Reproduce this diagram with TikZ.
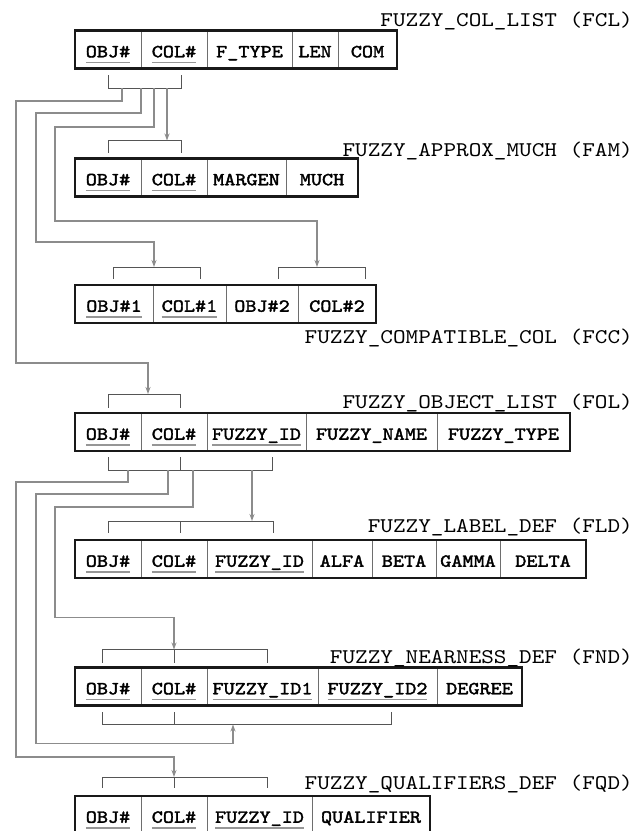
\documentclass[tikz,border=0pt]{standalone}
\usepackage{fontspec}
\newfontfamily\fzmono[Extension=.otf, FakeStretch=1.15]{lmmono10-regular}
\newfontfamily\fzmonobold[Extension=.otf, FakeStretch=1.15, FakeBold=2]{lmmono10-regular}
\usetikzlibrary{arrows.meta,positioning,calc}
\definecolor{fzframe}{RGB}{25,25,25}
\definecolor{fzdiv}{RGB}{110,110,110}
\definecolor{fzkey}{RGB}{150,150,150}
\definecolor{fzwire}{RGB}{140,140,140}
\definecolor{fzbrack}{RGB}{85,85,85}
\newcommand\cellfont{\fzmonobold\fontsize{18.4}{20}\selectfont}
\newcommand\titlefont{\fzmono\fontsize{20.9}{24}\selectfont}
\newsavebox\keybox
\newcommand\keyfield[1]{\sbox\keybox{#1}\rlap{\raisebox{-6pt}[0pt][0pt]{\textcolor{fzkey}{\rule{\wd\keybox}{1.5pt}}}}\usebox\keybox}

\begin{document}
\begin{tikzpicture}[
  x=1pt, y=1pt, node distance=0pt,
  cell/.style={draw=fzdiv, line width=1pt, outer sep=0pt, inner sep=0pt,
               minimum height=38pt, text height=15.5pt, text depth=0pt,
               font=\cellfont},
  frame/.style={draw=fzframe, line width=2.6pt},
  title/.style={font=\titlefont, inner sep=0pt, anchor=base east},
  bracket/.style={draw=fzbrack, line width=1pt},
  link/.style={draw=fzwire, line width=1.4pt},
  arrow/.style={link, -{Stealth[length=7pt,width=5pt]}}
]
\useasboundingbox (0,0) rectangle (634,-831);
\clip (0,0) rectangle (634,-831);

% --- FUZZY_COL_LIST ---
\node[cell, minimum width=66pt, anchor=west] (fcl1) at (75,-49.5) {\keyfield{OBJ\#}};
\node[cell, minimum width=66pt, right=of fcl1] (fcl2) {\keyfield{COL\#}};
\node[cell, minimum width=85pt, right=of fcl2] (fcl3) {F\_TYPE};
\node[cell, minimum width=46pt, right=of fcl3] (fcl4) {LEN};
\node[cell, minimum width=59pt, right=of fcl4] (fcl5) {COM};
\draw[frame] (fcl1.north west) rectangle (fcl5.south east);
\node[title] (fcltitle) at (633,-26) {FUZZY\_COL\_LIST (FCL)};

% --- FUZZY_APPROX_MUCH ---
\node[cell, minimum width=66pt, anchor=west] (fam1) at (75,-177.5) {\keyfield{OBJ\#}};
\node[cell, minimum width=66pt, right=of fam1] (fam2) {\keyfield{COL\#}};
\node[cell, minimum width=79pt, right=of fam2] (fam3) {MARGEN};
\node[cell, minimum width=72pt, right=of fam3] (fam4) {MUCH};
\draw[frame] (fam1.north west) rectangle (fam4.south east);
\node[title] (famtitle) at (633,-156) {FUZZY\_APPROX\_MUCH (FAM)};

% --- FUZZY_COMPATIBLE_COL ---
\node[cell, minimum width=78pt, anchor=west] (fcc1) at (75,-304) {\keyfield{OBJ\#1}};
\node[cell, minimum width=73pt, right=of fcc1] (fcc2) {\keyfield{COL\#1}};
\node[cell, minimum width=72pt, right=of fcc2] (fcc3) {OBJ\#2};
\node[cell, minimum width=78pt, right=of fcc3] (fcc4) {COL\#2};
\draw[frame] (fcc1.north west) rectangle (fcc4.south east);
\node[title] (fcctitle) at (633,-343) {FUZZY\_COMPATIBLE\_COL (FCC)};

% --- FUZZY_OBJECT_LIST ---
\node[cell, minimum width=66pt, anchor=west] (fol1) at (75,-432) {\keyfield{OBJ\#}};
\node[cell, minimum width=66pt, right=of fol1] (fol2) {\keyfield{COL\#}};
\node[cell, minimum width=99pt, right=of fol2] (fol3) {\keyfield{FUZZY\_ID}};
\node[cell, minimum width=131pt, right=of fol3] (fol4) {FUZZY\_NAME};
\node[cell, minimum width=133pt, right=of fol4] (fol5) {FUZZY\_TYPE};
\draw[frame] (fol1.north west) rectangle (fol5.south east);
\node[title] (foltitle) at (633,-408) {FUZZY\_OBJECT\_LIST (FOL)};

% --- FUZZY_LABEL_DEF ---
\node[cell, minimum width=66pt, anchor=west] (fld1) at (75,-559) {\keyfield{OBJ\#}};
\node[cell, minimum width=66pt, right=of fld1] (fld2) {\keyfield{COL\#}};
\node[cell, minimum width=105pt, right=of fld2] (fld3) {\keyfield{FUZZY\_ID}};
\node[cell, minimum width=60pt, right=of fld3] (fld4) {ALFA};
\node[cell, minimum width=64pt, right=of fld4] (fld5) {BETA};
\node[cell, minimum width=64pt, right=of fld5] (fld6) {GAMMA};
\node[cell, minimum width=86pt, right=of fld6] (fld7) {DELTA};
\draw[frame] (fld1.north west) rectangle (fld7.south east);
\node[title] (fldtitle) at (633,-532) {FUZZY\_LABEL\_DEF (FLD)};

% --- FUZZY_NEARNESS_DEF ---
\node[cell, minimum width=66pt, anchor=west] (fnd1) at (75,-686.5) {\keyfield{OBJ\#}};
\node[cell, minimum width=66pt, right=of fnd1] (fnd2) {\keyfield{COL\#}};
\node[cell, minimum width=111pt, right=of fnd2] (fnd3) {\keyfield{FUZZY\_ID1}};
\node[cell, minimum width=119pt, right=of fnd3] (fnd4) {\keyfield{FUZZY\_ID2}};
\node[cell, minimum width=85pt, right=of fnd4] (fnd5) {DEGREE};
\draw[frame] (fnd1.north west) rectangle (fnd5.south east);
\node[title] (fndtitle) at (633,-663) {FUZZY\_NEARNESS\_DEF (FND)};

% --- FUZZY_QUALIFIERS_DEF ---
\node[cell, minimum width=66pt, anchor=west] (fqd1) at (75,-815) {\keyfield{OBJ\#}};
\node[cell, minimum width=66pt, right=of fqd1] (fqd2) {\keyfield{COL\#}};
\node[cell, minimum width=105pt, right=of fqd2] (fqd3) {\keyfield{FUZZY\_ID}};
\node[cell, minimum width=118pt, right=of fqd3] (fqd4) {QUALIFIER};
\draw[frame] (fqd1.north west) rectangle (fqd4.south east);
\node[title] (fqdtitle) at (633,-789) {FUZZY\_QUALIFIERS\_DEF (FQD)};

% --- Key brackets ---
\coordinate (fclbar) at ($(fcl1.south)+(0,-19.5)$);
\coordinate (fambar) at ($(fam1.north)+(0,18)$);
\coordinate (fccbar1) at ($(fcc1.north)+(-1,18)$);
\coordinate (fccbar2) at ($(fcc3.north)+(16,18)$);
\coordinate (folbar) at ($(fol1.north)+(0,19)$);
\coordinate (folbbar) at ($(fol1.south)+(0,-19)$);
\coordinate (fldbar) at ($(fld1.north)+(0,19)$);
\coordinate (fndbar) at ($(fnd1.north)+(-6,18)$);
\coordinate (fndbbar) at ($(fnd1.south)+(-6,-19)$);
\coordinate (fqdbar) at ($(fqd1.north)+(-6,19)$);

\draw[bracket] (fclbar) -- ++(0,13) (fclbar) -- ++(73,0) -- ++(0,13);
\draw[bracket] (fambar) -- ++(0,-12) (fambar) -- ++(73,0) -- ++(0,-12);
\draw[bracket] (fccbar1) -- ++(0,-12) (fccbar1) -- ++(87,0) -- ++(0,-12);
\draw[bracket] (fccbar2) -- ++(0,-12) (fccbar2) -- ++(87,0) -- ++(0,-12);
\draw[bracket] (folbar) -- ++(0,-14) (folbar) -- ++(72,0) -- ++(0,-14);
\draw[bracket] (folbbar) -- ++(0,13) (folbbar) -- ++(164,0) -- ++(0,13)
  ($(folbbar)+(72,0)$) -- ++(0,13);
\draw[bracket] (fldbar) -- ++(0,-12) (fldbar) -- ++(165,0) -- ++(0,-12)
  ($(fldbar)+(72,0)$) -- ++(0,-12);
\draw[bracket] (fndbar) -- ++(0,-13) (fndbar) -- ++(165,0) -- ++(0,-13)
  ($(fndbar)+(72,0)$) -- ++(0,-13);
\draw[bracket] (fndbbar) -- ++(0,13) (fndbbar) -- ++(289,0) -- ++(0,13)
  ($(fndbbar)+(72,0)$) -- ++(0,13);
\draw[bracket] (fqdbar) -- ++(0,-11) (fqdbar) -- ++(165,0) -- ++(0,-11)
  ($(fqdbar)+(72,0)$) -- ++(0,-11);

% --- Links from FCL ---
\draw[arrow] ($(fclbar)+(14,0)$) -- ++(0,-13) -- ++(-106,0) |- ($(folbar)+(40,31)$) -- ($(folbar)+(40,0)$);
\draw[arrow] ($(fclbar)+(33,0)$) -- ++(0,-25) -- ++(-105,0) |- ($(fccbar1)+(41,25)$) -- ($(fccbar1)+(41,0)$);
\draw[arrow] ($(fclbar)+(46,0)$) -- ++(0,-39) -- ++(-99,0) |- ($(fccbar2)+(39,46)$) -- ($(fccbar2)+(39,0)$);
\draw[arrow] ($(fclbar)+(59,0)$) -- ($(fambar)+(59,0)$);

% --- Links from FOL ---
\draw[arrow] ($(folbbar)+(20,0)$) -- ++(0,-12) -- ++(-112,0) |- ($(fqdbar)+(72,20)$) -- ($(fqdbar)+(72,0)$);
\draw[arrow] ($(folbbar)+(60,0)$) -- ++(0,-24) -- ++(-132,0) |- ($(fndbbar)+(131,-19)$) -- ($(fndbbar)+(131,0)$);
\draw[arrow] ($(folbbar)+(85,0)$) -- ++(0,-37) -- ++(-138,0) |- ($(fndbar)+(72,32)$) -- ($(fndbar)+(72,0)$);
\draw[arrow] ($(folbbar)+(144,0)$) -- ($(fldbar)+(144,0)$);

\end{tikzpicture}
\end{document}
